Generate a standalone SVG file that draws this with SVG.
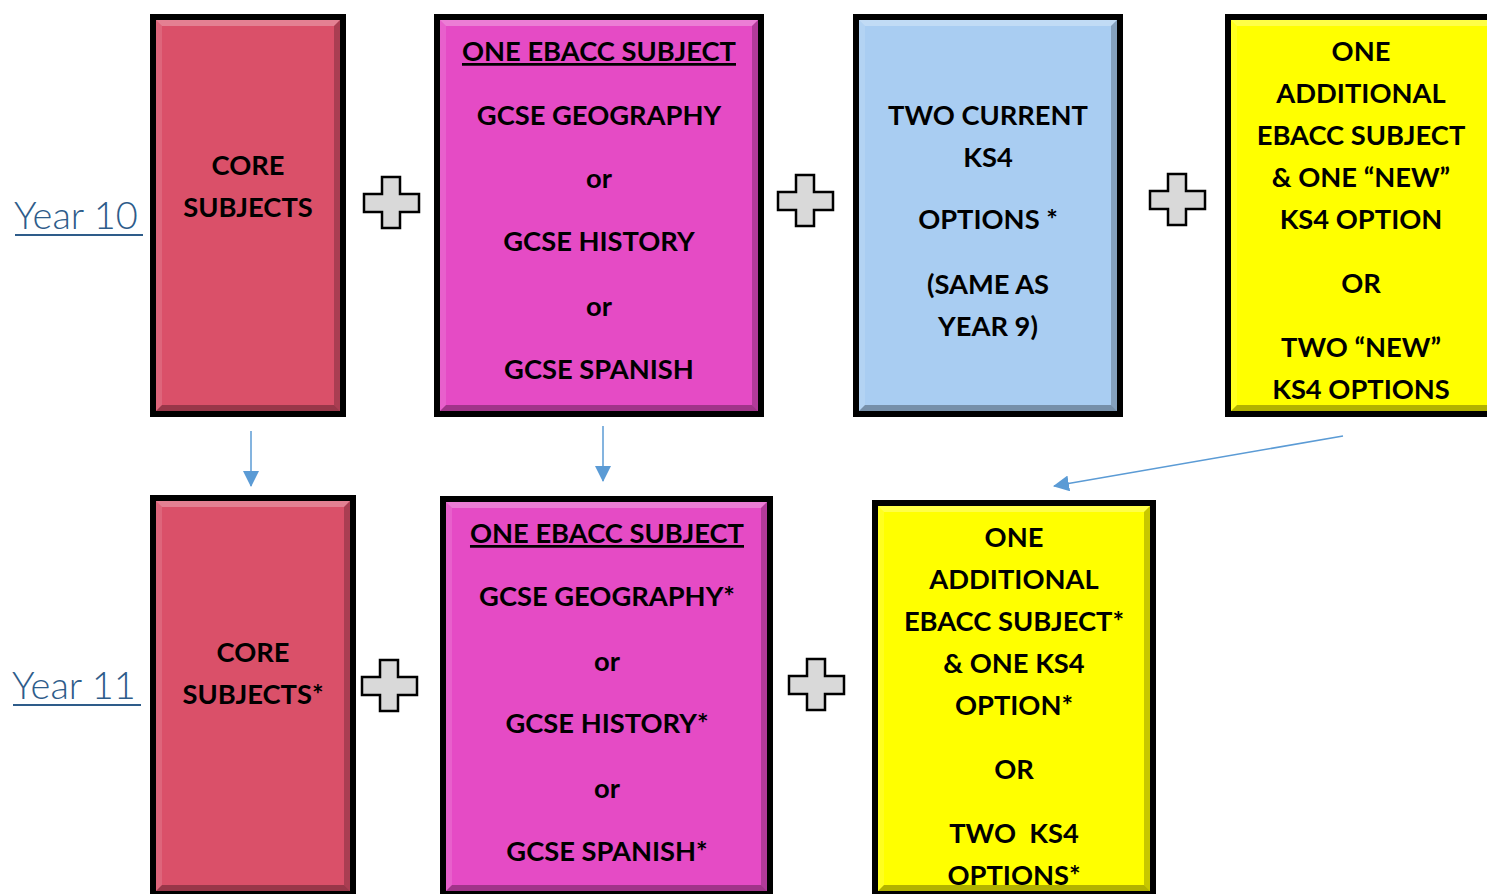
<svg xmlns="http://www.w3.org/2000/svg" width="1487" height="894" viewBox="0 0 1487 894">
<defs>
<style>
.box{stroke:#000;stroke-width:6}
.hl{fill:#fff;opacity:0.28}
.hl2{fill:#fff;opacity:0.12}
.sh{fill:#000;opacity:0.22}
.sh2{fill:#000;opacity:0.3}
.t{font-family:Lato,"Liberation Sans",sans-serif;font-weight:bold;font-size:27.3px;fill:#000;text-anchor:middle}
.yr{font-family:Lato,"Open Sans",sans-serif;font-weight:300;font-size:38px;fill:#2e5c8a}
.plus{fill:#d9d9d9;stroke:#000;stroke-width:2.5}
.conn{stroke:#5b9bd5;stroke-width:1.5;fill:none}
</style>
<marker id="ah2" viewBox="0 0 16 16" refX="15" refY="8" markerWidth="16" markerHeight="16" markerUnits="userSpaceOnUse" orient="auto">
<path d="M0,0 L16,8 L0,16 Z" fill="#5b9bd5"/>
</marker>
<clipPath id="c7"><rect x="878" y="506" width="272" height="379"/></clipPath>
</defs>
<rect width="1487" height="894" fill="#fff"/>

<g id="year10"><text class="yr" x="14" y="229">Year 10</text><line x1="15" y1="235" x2="143" y2="235" stroke="#2e5c8a" stroke-width="2"/></g>
<g id="year11"><text class="yr" x="12" y="699">Year 11</text><line x1="13" y1="705" x2="141" y2="705" stroke="#2e5c8a" stroke-width="2"/></g>

<g id="core10">
<rect class="box" x="153" y="17" width="190" height="397" fill="#da5069"/>
<polygon class="hl" points="156,20 340,20 334,26 162,26"/>
<polygon class="hl2" points="156,20 162,26 162,405 156,411"/>
<polygon class="sh" points="340,20 340,411 334,405 334,26"/>
<polygon class="sh2" points="156,411 340,411 334,405 162,405"/>
<text class="t" x="248" y="175">CORE</text>
<text class="t" x="248" y="217">SUBJECTS</text>
</g>

<g id="ebacc10">
<rect class="box" x="437" y="17" width="324" height="397" fill="#e54bc5"/>
<polygon class="hl" points="440,20 758,20 752,26 446,26"/>
<polygon class="hl2" points="440,20 446,26 446,405 440,411"/>
<polygon class="sh" points="758,20 758,411 752,405 752,26"/>
<polygon class="sh2" points="440,411 758,411 752,405 446,405"/>
<text class="t" x="599" y="61" text-decoration="underline">ONE EBACC SUBJECT</text>
<text class="t" x="599" y="125">GCSE GEOGRAPHY</text>
<text class="t" x="599" y="188">or</text>
<text class="t" x="599" y="251">GCSE HISTORY</text>
<text class="t" x="599" y="316">or</text>
<text class="t" x="599" y="379">GCSE SPANISH</text>
</g>

<g id="options10">
<rect class="box" x="856" y="17" width="264" height="397" fill="#a9cdf2"/>
<polygon class="hl" points="859,20 1117,20 1111,26 865,26"/>
<polygon class="hl2" points="859,20 865,26 865,405 859,411"/>
<polygon class="sh" points="1117,20 1117,411 1111,405 1111,26"/>
<polygon class="sh2" points="859,411 1117,411 1111,405 865,405"/>
<text class="t" x="988" y="125">TWO CURRENT</text>
<text class="t" x="988" y="167">KS4</text>
<text class="t" x="988" y="229">OPTIONS *</text>
<text class="t" x="988" y="294">(SAME AS</text>
<text class="t" x="988" y="336">YEAR 9)</text>
</g>

<g id="additional10">
<rect class="box" x="1228" y="17" width="270" height="397" fill="#ffff00"/>
<polygon class="hl" points="1231,20 1495,20 1489,26 1237,26"/>
<polygon class="hl2" points="1231,20 1237,26 1237,405 1231,411"/>
<polygon class="sh2" points="1231,411 1495,411 1489,405 1237,405"/>
<text class="t" x="1361" y="61">ONE</text>
<text class="t" x="1361" y="103">ADDITIONAL</text>
<text class="t" x="1361" y="145">EBACC SUBJECT</text>
<text class="t" x="1361" y="187">&amp; ONE “NEW”</text>
<text class="t" x="1361" y="229">KS4 OPTION</text>
<text class="t" x="1361" y="293">OR</text>
<text class="t" x="1361" y="357">TWO “NEW”</text>
<text class="t" x="1361" y="399">KS4 OPTIONS</text>
</g>

<g id="core11">
<rect class="box" x="153" y="498" width="200" height="396" fill="#da5069"/>
<polygon class="hl" points="156,501 350,501 344,507 162,507"/>
<polygon class="hl2" points="156,501 162,507 162,885 156,891"/>
<polygon class="sh" points="350,501 350,891 344,885 344,507"/>
<polygon class="sh2" points="156,891 350,891 344,885 162,885"/>
<text class="t" x="253" y="662">CORE</text>
<text class="t" x="253" y="704">SUBJECTS*</text>
</g>

<g id="ebacc11">
<rect class="box" x="443" y="499" width="327" height="395" fill="#e54bc5"/>
<polygon class="hl" points="446,502 767,502 761,508 452,508"/>
<polygon class="hl2" points="446,502 452,508 452,885 446,891"/>
<polygon class="sh" points="767,502 767,891 761,885 761,508"/>
<polygon class="sh2" points="446,891 767,891 761,885 452,885"/>
<text class="t" x="607" y="543" text-decoration="underline">ONE EBACC SUBJECT</text>
<text class="t" x="607" y="606">GCSE GEOGRAPHY*</text>
<text class="t" x="607" y="671">or</text>
<text class="t" x="607" y="733">GCSE HISTORY*</text>
<text class="t" x="607" y="798">or</text>
<text class="t" x="607" y="861">GCSE SPANISH*</text>
</g>

<g id="additional11">
<rect class="box" x="875" y="503" width="278" height="391" fill="#ffff00"/>
<polygon class="hl" points="878,506 1150,506 1144,512 884,512"/>
<polygon class="hl2" points="878,506 884,512 884,885 878,891"/>
<polygon class="sh" points="1150,506 1150,891 1144,885 1144,512"/>
<polygon class="sh2" points="878,891 1150,891 1144,885 884,885"/>
<g clip-path="url(#c7)">
<text class="t" x="1014" y="547">ONE</text>
<text class="t" x="1014" y="589">ADDITIONAL</text>
<text class="t" x="1014" y="631">EBACC SUBJECT*</text>
<text class="t" x="1014" y="673">&amp; ONE KS4</text>
<text class="t" x="1014" y="715">OPTION*</text>
<text class="t" x="1014" y="779">OR</text>
<text class="t" x="1014" y="843" xml:space="preserve">TWO  KS4</text>
<text class="t" x="1014" y="885">OPTIONS*</text>
</g>
</g>

<g id="plus1"><path class="plus" d="M382,177 H400 V194 H419 V212 H400 V228 H382 V212 H364 V194 H382 Z"/></g>
<g id="plus2"><path class="plus" d="M796,175 H814 V192 H833 V210 H814 V226 H796 V210 H778 V192 H796 Z"/></g>
<g id="plus3"><path class="plus" d="M1168,174 H1186 V191 H1205 V209 H1186 V225 H1168 V209 H1150 V191 H1168 Z"/></g>
<g id="plus4"><path class="plus" d="M380,660 H398 V677 H417 V695 H398 V711 H380 V695 H362 V677 H380 Z"/></g>
<g id="plus5"><path class="plus" d="M807,659 H825 V676 H844 V694 H825 V710 H807 V694 H789 V676 H807 Z"/></g>

<g id="connectors">
<line class="conn" x1="251" y1="431" x2="251" y2="486" marker-end="url(#ah2)"/>
<line class="conn" x1="603" y1="426" x2="603" y2="481" marker-end="url(#ah2)"/>
<line class="conn" x1="1343" y1="436" x2="1054" y2="486" marker-end="url(#ah2)"/>
</g>
</svg>
